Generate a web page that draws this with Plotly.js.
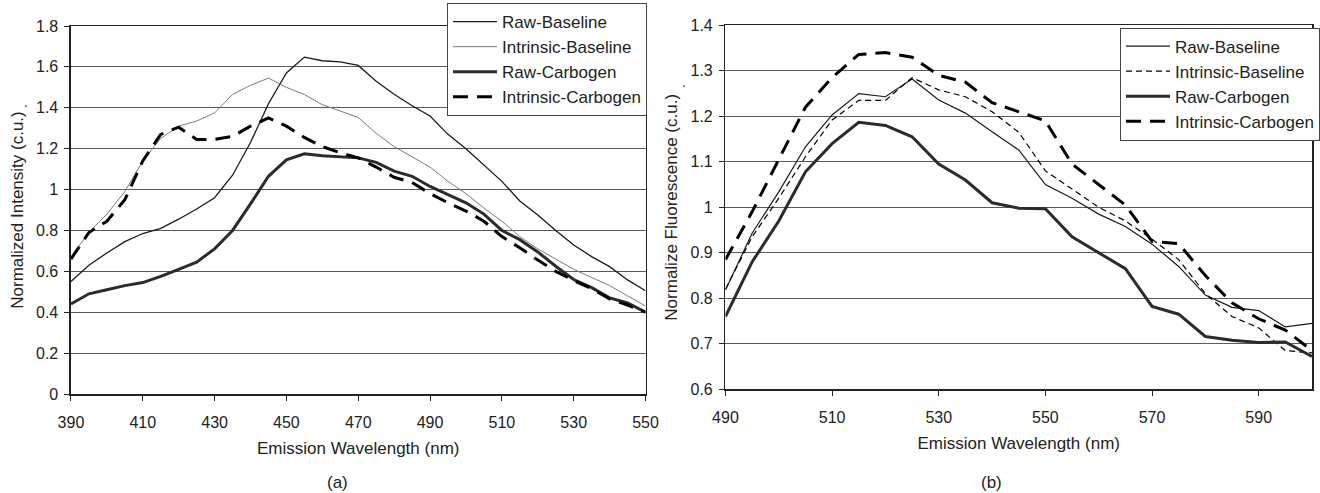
<!DOCTYPE html>
<html>
<head>
<meta charset="utf-8">
<script src="https://cdn.plot.ly/plotly-3.0.1.min.js"></script>
<style>
html,body{margin:0;padding:0;background:#fff;}
#chart{width:1320px;height:493px;}
</style>
</head>
<body>
<div id="chart"></div>
<script>
// ---- Data: panel (a) ----
const wavelengthA = [390,395,400,405,410,415,420,425,430,435,440,445,450,455,460,465,470,475,480,485,490,495,500,505,510,515,520,525,530,535,540,545,550];
const rawBaselineA = [0.55,0.63,0.69,0.745,0.785,0.81,0.855,0.905,0.96,1.07,1.23,1.42,1.57,1.648,1.63,1.625,1.607,1.53,1.466,1.41,1.36,1.27,1.20,1.12,1.04,0.944,0.876,0.80,0.729,0.672,0.623,0.558,0.505];
const intrinsicBaselineA = [0.67,0.79,0.88,0.99,1.14,1.25,1.31,1.335,1.375,1.465,1.51,1.545,1.50,1.465,1.415,1.385,1.353,1.275,1.21,1.16,1.11,1.04,0.98,0.91,0.845,0.77,0.71,0.66,0.61,0.57,0.53,0.48,0.43];
const rawCarbogenA = [0.44,0.49,0.51,0.53,0.545,0.575,0.61,0.645,0.71,0.80,0.93,1.065,1.145,1.175,1.165,1.16,1.155,1.133,1.09,1.065,1.015,0.975,0.935,0.88,0.80,0.755,0.695,0.625,0.56,0.52,0.47,0.445,0.40];
const intrinsicCarbogenA = [0.66,0.79,0.845,0.95,1.14,1.27,1.305,1.245,1.245,1.26,1.31,1.35,1.31,1.255,1.21,1.18,1.155,1.11,1.06,1.035,0.98,0.935,0.895,0.845,0.77,0.715,0.655,0.60,0.555,0.515,0.465,0.435,0.40];

// ---- Data: panel (b) ----
const wavelengthB = [490,495,500,505,510,515,520,525,530,535,540,545,550,555,560,565,570,575,580,585,590,595,600];
const rawBaselineB = [0.818,0.943,1.034,1.133,1.203,1.25,1.243,1.282,1.236,1.207,1.166,1.126,1.05,1.02,0.985,0.958,0.919,0.87,0.807,0.78,0.773,0.737,0.745];
const intrinsicBaselineB = [0.82,0.935,1.02,1.111,1.192,1.235,1.235,1.285,1.258,1.243,1.21,1.165,1.08,1.04,1.0,0.97,0.93,0.885,0.81,0.76,0.735,0.685,0.68];
const rawCarbogenB = [0.76,0.88,0.97,1.078,1.14,1.187,1.18,1.155,1.095,1.06,1.01,0.998,0.997,0.935,0.90,0.865,0.782,0.765,0.716,0.708,0.703,0.704,0.672];
const intrinsicCarbogenB = [0.885,0.99,1.105,1.22,1.285,1.336,1.34,1.33,1.29,1.275,1.23,1.21,1.19,1.095,1.05,1.005,0.925,0.92,0.85,0.79,0.755,0.73,0.685];

const seriesNames = ["Raw-Baseline","Intrinsic-Baseline","Raw-Carbogen","Intrinsic-Carbogen"];
const panelLabels = ["(a)","(b)"];
const xTitle = "Emission Wavelength (nm)";
const yTitleA = "Normalized Intensity (c.u.)";
const yTitleB = "Normalize Fluorescence (c.u.)";

const FONT = "Arial, 'Liberation Sans', sans-serif";
const TXT = "#222";

function tr(x, y, name, line, xa, ya, legend) {
  return {x: x, y: y, name: name, type: "scatter", mode: "lines",
          line: Object.assign({shape: "linear"}, line),
          xaxis: xa, yaxis: ya, legend: legend, hoverinfo: "x+y+name"};
}

const data = [
  tr(wavelengthA, rawBaselineA, seriesNames[0], {color: "#1a1a1a", width: 1.3}, "x", "y", "legend"),
  tr(wavelengthA, intrinsicBaselineA, seriesNames[1], {color: "#7a7a7a", width: 1}, "x", "y", "legend"),
  tr(wavelengthA, rawCarbogenA, seriesNames[2], {color: "#2b2b2b", width: 3}, "x", "y", "legend"),
  tr(wavelengthA, intrinsicCarbogenA, seriesNames[3], {color: "#000", width: 3, dash: "15px,9px"}, "x", "y", "legend"),
  tr(wavelengthB, rawBaselineB, seriesNames[0], {color: "#1a1a1a", width: 1.2}, "x2", "y2", "legend2"),
  tr(wavelengthB, intrinsicBaselineB, seriesNames[1], {color: "#000", width: 1.2, dash: "6px,4px"}, "x2", "y2", "legend2"),
  tr(wavelengthB, rawCarbogenB, seriesNames[2], {color: "#2b2b2b", width: 3}, "x2", "y2", "legend2"),
  tr(wavelengthB, intrinsicCarbogenB, seriesNames[3], {color: "#000", width: 3, dash: "15px,9px"}, "x2", "y2", "legend2")
];

const W = 1320, H = 493;
const titleFont = {family: FONT, size: 17, color: TXT};
const axisCommon = {
  showline: true, linecolor: "#222", linewidth: 1.5, mirror: true,
  ticks: "outside", ticklen: 5, tickwidth: 1, tickcolor: "#222",
  tickfont: {family: FONT, size: 16, color: TXT},
  zeroline: false, fixedrange: true
};
const legendCommon = {
  bgcolor: "#fff", bordercolor: "#444", borderwidth: 1,
  font: {family: FONT, size: 17, color: TXT},
  xanchor: "left", yanchor: "top", itemwidth: 44, tracegroupgap: 0
};

const layout = {
  width: W, height: H,
  margin: {l: 0, r: 0, t: 0, b: 0},
  paper_bgcolor: "#fff", plot_bgcolor: "#fff",
  font: {family: FONT, size: 16, color: TXT},
  xaxis: Object.assign({}, axisCommon, {
    domain: [71/W, 646/W], anchor: "y", range: [390, 550], dtick: 20, tick0: 390,
    showgrid: false, ticklabelstandoff: 8,
    title: {text: xTitle, font: titleFont, standoff: 12}
  }),
  yaxis: Object.assign({}, axisCommon, {
    domain: [1 - 394/H, 1 - 26/H], anchor: "x", range: [0, 1.8], dtick: 0.2, tick0: 0,
    showgrid: true, gridcolor: "#5a5a5a", gridwidth: 1, ticklabelstandoff: 3,
    title: {text: yTitleA, font: titleFont, standoff: 8}
  }),
  xaxis2: Object.assign({}, axisCommon, {
    domain: [726/W, 1313/W], anchor: "y2", range: [490, 600], dtick: 20, tick0: 490,
    showgrid: false, ticklabelstandoff: 8,
    title: {text: xTitle, font: titleFont, standoff: 12}
  }),
  yaxis2: Object.assign({}, axisCommon, {
    domain: [1 - 389.3/H, 1 - 25.3/H], anchor: "x2", range: [0.6, 1.4], dtick: 0.1, tick0: 0.6,
    showgrid: true, gridcolor: "#5a5a5a", gridwidth: 1, ticklabelstandoff: 3,
    title: {text: yTitleB, font: titleFont, standoff: 8}
  }),
  legend: Object.assign({}, legendCommon, {x: 447/W, y: 1 - 3/H}),
  legend2: Object.assign({}, legendCommon, {x: 1121/W, y: 1 - 27.5/H}),
  showlegend: true,
  annotations: [
    {text: panelLabels[0], xref: "paper", yref: "paper", x: 338/W, y: 1 - 482/H,
     xanchor: "center", yanchor: "middle",
     showarrow: false, font: {family: FONT, size: 17, color: TXT}},
    {text: panelLabels[1], xref: "paper", yref: "paper", x: 992/W, y: 1 - 482/H,
     xanchor: "center", yanchor: "middle",
     showarrow: false, font: {family: FONT, size: 17, color: TXT}},
    {text: ".", xref: "paper", yref: "paper", x: 22/W, y: 1 - 92/H,
     showarrow: false, font: {family: FONT, size: 14, color: TXT}},
    {text: ".", xref: "paper", yref: "paper", x: 685/W, y: 1 - 72/H,
     showarrow: false, font: {family: FONT, size: 14, color: TXT}}
  ]
};

Plotly.newPlot("chart", data, layout, {displayModeBar: false, staticPlot: true});
</script>
</body>
</html>
